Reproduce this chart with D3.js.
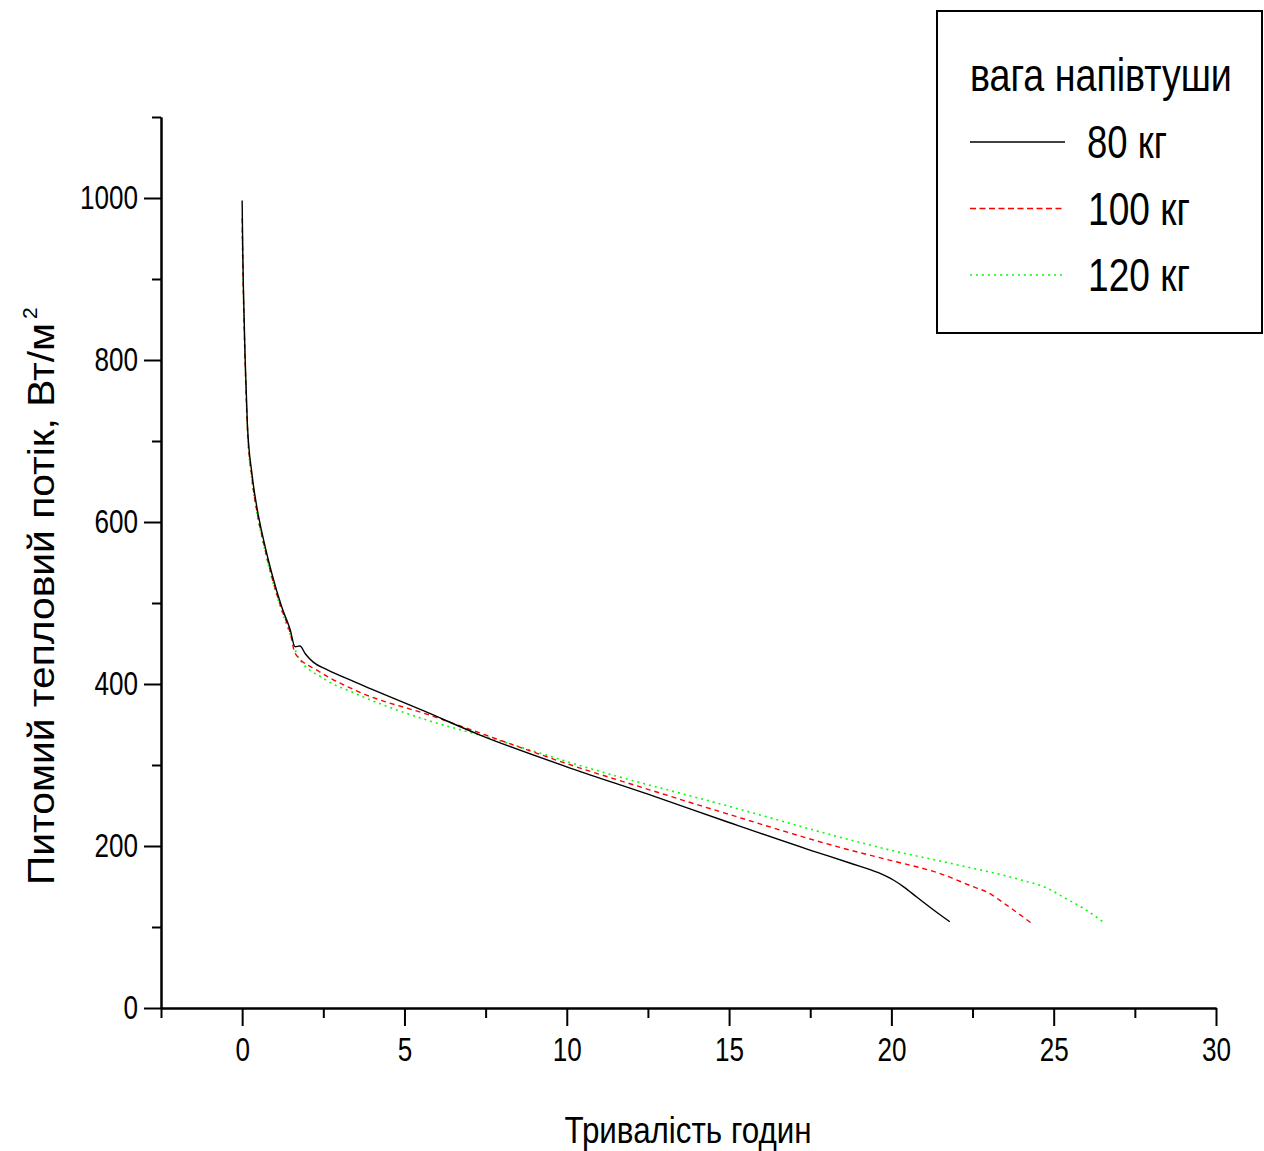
<!DOCTYPE html>
<html>
<head>
<meta charset="utf-8">
<script src="https://cdn.jsdelivr.net/npm/d3@7"></script>
<style>
  body { margin: 0; background: #fff; }
  svg text { font-family: "Liberation Sans", Arial, sans-serif; fill: #000; }
</style>
</head>
<body>
<div id="chart"></div>
<script>
// heat flux curves, one array pair per carcass weight
var x80 = [0, 0.02, 0.04, 0.09, 0.16, 0.3, 0.45, 0.66, 0.91, 1.22, 1.48, 1.63, 1.78, 1.95, 2.19, 2.6, 3.5, 5.58, 7.33, 10.2, 12.5, 15, 17.49, 18.72, 19.6, 20.06, 20.4, 20.78, 21.3, 21.8];
var y80 = [997, 930, 886, 804, 722, 660, 619, 578, 537, 495, 467, 446, 447, 437, 427, 418, 402, 367, 337, 295, 264, 229, 195, 179, 167, 158, 149, 137, 121, 106.5];

var x100 = [0, 0.04, 0.09, 0.16, 0.3, 0.45, 0.66, 0.91, 1.22, 1.48, 1.63, 2.35, 3.5, 5.89, 7.5, 10.2, 12.5, 15, 18.72, 20, 21.5, 22.63, 22.9, 23.55, 24.32];
var y100 = [975, 880, 800, 718, 655, 614, 574, 533, 492, 463, 438, 416, 392, 360, 337, 299, 270, 239, 195, 182, 166, 148, 144, 127, 104.5];

var x120 = [0, 0.04, 0.09, 0.16, 0.3, 0.45, 0.66, 0.91, 1.22, 1.48, 1.73, 2.5, 3.5, 5.89, 7.5, 11.03, 15, 18.83, 19.96, 22, 24, 24.8, 25.29, 26, 26.58];
var y120 = [960, 876, 798, 716, 652, 612, 572, 531, 490, 461, 433, 407, 388, 353, 335, 292, 249, 206.5, 195, 177, 158, 148, 137, 121, 104.5];

var seriesNames = ["80 кг", "100 кг", "120 кг"];
var xTicks = [0, 5, 10, 15, 20, 25, 30];
var xMinor = [-2.5, 2.5, 7.5, 12.5, 17.5, 22.5, 27.5];
var yTicks = [0, 200, 400, 600, 800, 1000];
var yMinor = [100, 300, 500, 700, 900, 1100];

var svgWidth = 1264, svgHeight = 1151;
var margin = {top: 117, right: 48, bottom: 143, left: 161};
var width = svgWidth - margin.left - margin.right,
    height = svgHeight - margin.top - margin.bottom;

// no narrow font installed, so squeeze text to the reference widths
var charW = 14.5;

// horizontally scale a start-anchored text placed at (px, py) to width w
function squeeze(sel, px, py, w) {
    var natural = sel.node().getComputedTextLength();
    sel.attr("transform", `translate(${px},${py}) scale(${w / natural},1)`);
}

var svg = d3.select("#chart").append("svg")
    .attr("width", svgWidth)
    .attr("height", svgHeight);

var g = svg.append("g")
    .attr("transform", `translate(${margin.left},${margin.top})`);

var x = d3.scaleLinear().domain([-2.5, 30]).range([0, width]);
var y = d3.scaleLinear().domain([0, 1100]).range([height, 0]);

// minor ticks first, then major axis with labels
g.append("g")
    .attr("transform", `translate(0,${height})`)
    .call(d3.axisBottom(x).tickValues(xMinor).tickSize(10).tickSizeOuter(0).tickFormat(""));
g.append("g")
    .attr("class", "x axis")
    .attr("transform", `translate(0,${height})`)
    .call(d3.axisBottom(x).tickValues(xTicks).tickSize(18).tickSizeOuter(0).tickPadding(12).tickFormat(d3.format("d")));

g.append("g")
    .call(d3.axisLeft(y).tickValues(yMinor).tickSize(9).tickSizeOuter(0).tickFormat(""));
g.append("g")
    .attr("class", "y axis")
    .call(d3.axisLeft(y).tickValues(yTicks).tickSize(17).tickSizeOuter(0).tickPadding(6).tickFormat(d3.format("d")));

g.selectAll(".domain, .tick line").attr("stroke", "#000").attr("stroke-width", 2);
g.selectAll(".tick text")
    .attr("font-size", 33).attr("fill", "#000")
    .style("font-family", '"Liberation Sans", Arial, sans-serif')
    .attr("textLength", function () { return this.textContent.length * charW; })
    .attr("lengthAdjust", "spacingAndGlyphs");

// axis titles
svg.append("text")
    .attr("x", 688).attr("y", 1143)
    .attr("text-anchor", "middle")
    .attr("font-size", 36)
    .attr("textLength", 247).attr("lengthAdjust", "spacingAndGlyphs")
    .text("Тривалість годин");

svg.append("text")
    .attr("transform", "translate(54,885) rotate(-90)")
    .attr("font-size", 36)
    .attr("textLength", 562).attr("lengthAdjust", "spacingAndGlyphs")
    .text("Питомий тепловий потік, Вт/м");
svg.append("text")
    .attr("transform", "translate(54,885) rotate(-90)")
    .attr("x", 566).attr("y", -17)
    .attr("font-size", 21)
    .text("2");

// curves
var styles = [
    {color: "#000000", dash: null, width: 1.4},
    {color: "#ff0000", dash: "5,4", width: 1.4},
    {color: "#00ff00", dash: "2,4", width: 1.6}
];
var series = [
    x80.map((d, i) => ({x: d, y: y80[i]})),
    x100.map((d, i) => ({x: d, y: y100[i]})),
    x120.map((d, i) => ({x: d, y: y120[i]}))
];

var valueline = d3.line()
    .curve(d3.curveMonotoneX)
    .x(d => x(d.x))
    .y(d => y(d.y));

// draw green and red under black
[2, 1, 0].forEach(function (i) {
    g.append("path")
        .datum(series[i])
        .attr("fill", "none")
        .attr("stroke", styles[i].color)
        .attr("stroke-width", styles[i].width)
        .attr("stroke-dasharray", styles[i].dash)
        .attr("d", valueline);
});

// legend
var legend = svg.append("g");
legend.append("rect")
    .attr("x", 937).attr("y", 11)
    .attr("width", 325).attr("height", 322)
    .attr("fill", "#fff").attr("stroke", "#000").attr("stroke-width", 2);
var legendTitle = legend.append("text")
    .attr("font-size", 46)
    .text("вага напівтуши");
squeeze(legendTitle, 970, 91, 262);

var labelW = [80, 102, 102];
seriesNames.forEach(function (name, i) {
    var cy = 142 + i * 66.5;
    legend.append("line")
        .attr("x1", 970).attr("x2", i === 1 ? 1062 : 1065)
        .attr("y1", cy).attr("y2", cy)
        .attr("stroke", styles[i].color)
        .attr("stroke-width", styles[i].width)
        .attr("stroke-dasharray", i === 1 ? "6,3.5" : styles[i].dash);
    var t = legend.append("text")
        .attr("font-size", 46)
        .text(name);
    squeeze(t, i === 0 ? 1087 : 1088, cy + 16, labelW[i]);
});
</script>
</body>
</html>
